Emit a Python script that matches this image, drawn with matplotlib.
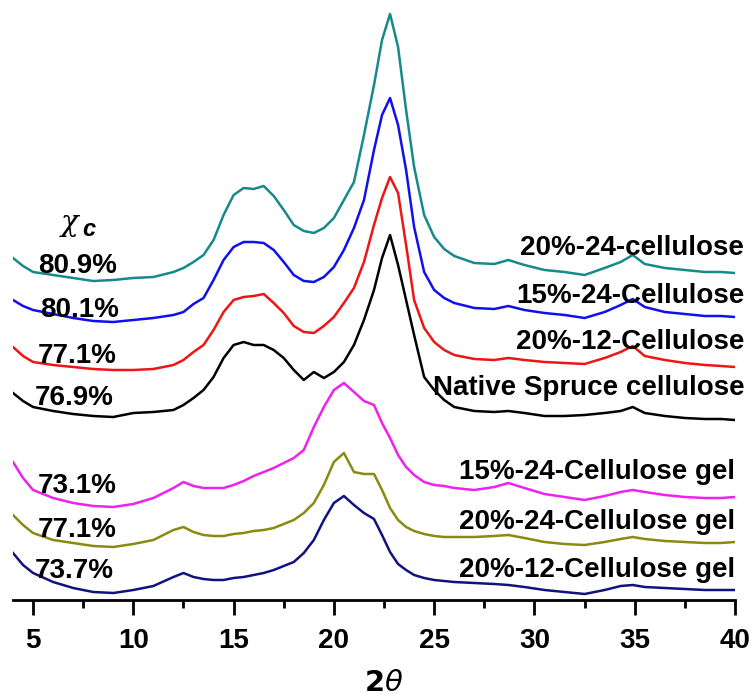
import matplotlib
matplotlib.use("Agg")
import matplotlib.pyplot as plt
from matplotlib.ticker import MultipleLocator

# 2-theta sampling positions (degrees)
two_theta = [4.0, 4.5, 5, 6, 7, 8, 9, 10, 11, 12, 12.5, 13, 13.5, 14, 14.5, 15, 15.5, 16,
             16.5, 17, 17.5, 18, 18.5, 19, 19.5, 20, 20.5, 21, 21.5, 22, 22.4, 22.8, 23.2,
             23.6, 24, 24.5, 25, 25.5, 26, 27, 28, 28.7, 29.5, 30.5, 31.5, 32.5, 33.5, 34.3,
             34.9, 35.5, 36.5, 37.5, 38.5, 39.3, 40]

# Stacked diffractograms (intensity, a.u., offsets included)
cell_20_24 = [342, 334, 328, 325, 322, 319, 320, 322, 323, 328, 332, 338, 345, 360, 385, 405,
              412, 411, 414, 404, 390, 375, 369, 367, 372, 382, 400, 418, 465, 515, 560, 586,
              553, 490, 433, 385, 363, 351, 344, 337, 336, 340, 335, 330, 328, 325, 332, 338,
              345, 336, 332, 330, 328, 328, 327]
cell_15_24 = [300, 294, 290, 286, 282, 279, 278, 280, 282, 285, 288, 296, 302, 320, 340, 353,
              358, 358, 357, 350, 338, 325, 319, 318, 323, 333, 350, 372, 400, 450, 485, 502,
              475, 430, 373, 328, 310, 302, 297, 292, 291, 294, 290, 287, 285, 282, 288, 295,
              301, 293, 288, 286, 284, 284, 283]
cell_20_12 = [253, 244, 238, 235, 233, 231, 230, 230, 231, 235, 240, 248, 255, 270, 288, 300,
              303, 304, 306, 297, 287, 274, 268, 267, 274, 283, 297, 312, 338, 375, 402, 423,
              407, 355, 300, 272, 258, 250, 245, 241, 240, 242, 240, 238, 237, 236, 242, 248,
              254, 244, 240, 237, 235, 234, 233]
native_spruce = [207, 199, 193, 189, 186, 184, 183, 187, 188, 190, 195, 202, 210, 223, 242, 255,
                 258, 255, 255, 250, 242, 230, 220, 228, 222, 228, 238, 255, 280, 310, 342, 365,
                 335, 300, 265, 223, 210, 200, 193, 189, 188, 189, 187, 184, 184, 185, 187, 189,
                 193, 187, 184, 182, 181, 181, 180]
gel_15_24 = [138, 122, 110, 102, 97, 94, 93, 96, 102, 112, 118, 114, 112, 112, 112, 115,
             119, 124, 128, 132, 137, 142, 150, 173, 193, 210, 217, 208, 199, 195, 177, 162,
             145, 133, 125, 118, 115, 114, 112, 110, 113, 117, 112, 106, 103, 100, 104, 108,
             110, 108, 105, 103, 102, 102, 103]
gel_20_24 = [85, 75, 67, 60, 57, 54, 53, 56, 60, 70, 73, 68, 65, 64, 64, 66,
             67, 69, 70, 72, 76, 80, 87, 97, 115, 138, 147, 128, 126, 126, 110, 92,
             80, 73, 69, 66, 64, 63, 63, 63, 64, 65, 62, 58, 56, 55, 58, 61,
             63, 61, 59, 58, 57, 57, 58]
gel_20_12 = [47, 35, 27, 18, 12, 8, 7, 10, 14, 23, 27, 23, 21, 20, 20, 22,
             23, 25, 27, 30, 34, 38, 47, 60, 80, 97, 104, 95, 87, 81, 65, 48,
             36, 30, 25, 22, 20, 19, 18, 17, 16, 15, 13, 10, 8, 6, 10, 14,
             15, 13, 12, 11, 10, 10, 10]

series = [cell_20_24, cell_15_24, cell_20_12, native_spruce, gel_15_24, gel_20_24, gel_20_12]
names = ["20%-24-cellulose", "15%-24-Cellulose", "20%-12-Cellulose",
         "Native Spruce cellulose", "15%-24-Cellulose gel", "20%-24-Cellulose gel",
         "20%-12-Cellulose gel"]
crystallinity = ["80.9%", "80.1%", "77.1%", "76.9%", "73.1%", "77.1%", "73.7%"]
colors = ["#168a8a", "#1010ee", "#ee1515", "#000000", "#ee22ee", "#8a8a12", "#12127e"]

# label anchors (baseline heights, a.u.)
name_y = [345, 297, 251, 205, 121, 71, 23]
name_x = [40.45, 40.45, 40.45, 40.5, 40.0, 40.0, 40.0]
pct_y = [327, 283, 237, 195, 107, 63, 22]
pct_x = [5.25, 5.35, 5.25, 5.1, 5.25, 5.25, 5.1]

W, H = 752, 696
fig = plt.figure(figsize=(W / 100, H / 100), dpi=100)
ax = fig.add_axes([13 / W, 96 / H, 722 / W, 591 / H])

for y, c in zip(series, colors):
    ax.plot(two_theta, y, color=c, lw=1.8, solid_joinstyle="round", zorder=2)

font = "Liberation Sans"
for txt, xx, yy in zip(names, name_x, name_y):
    ax.text(xx, yy, txt, ha="right", va="baseline", fontsize=20, fontweight="bold",
            family=font, zorder=5, clip_on=False)
for txt, xx, yy in zip(crystallinity, pct_x, pct_y):
    ax.text(xx, yy, txt, ha="left", va="baseline", fontsize=20, fontweight="bold",
            family=font, zorder=5)

# crystallinity index header
ax.text(6.4, 369, "χ", ha="left", va="baseline", fontsize=21, style="italic",
        family="DejaVu Serif", zorder=5)
ax.text(7.45, 364, "c", ha="left", va="baseline", fontsize=17, fontweight="bold",
        style="italic", family=font, zorder=5)

ax.set_xlim(4, 40)
ax.set_ylim(0, 591)
ax.xaxis.set_major_locator(MultipleLocator(5))
ax.xaxis.set_minor_locator(MultipleLocator(2.5))
ax.tick_params(axis="x", which="major", length=11, width=2, direction="out", pad=9,
               labelsize=20)
ax.tick_params(axis="x", which="minor", length=6, width=2, direction="out")
for lab in ax.get_xticklabels():
    lab.set_fontweight("bold")
    lab.set_family(font)
ax.set_yticks([])
for side in ("left", "right", "top"):
    ax.spines[side].set_visible(False)
ax.spines["bottom"].set_linewidth(2)

fig.text(384 / W, 1 - 683 / H, r"$\mathbf{2}\theta$", ha="center", va="center",
         fontsize=21)

fig.savefig("out.png", dpi=100)
